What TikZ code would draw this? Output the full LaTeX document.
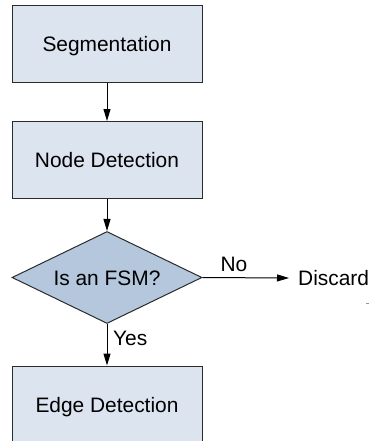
\documentclass[tikz,border=0pt]{standalone}
\usepackage{fontspec}
\setmainfont{Liberation Sans}
\usetikzlibrary{shapes.geometric,arrows.meta}
\definecolor{boxfill}{HTML}{DCE4EF}
\definecolor{diafill}{HTML}{B4C7DD}
\definecolor{edge}{HTML}{2B2B2B}
\definecolor{speck}{HTML}{7A9CC6}
\tikzset{
  stepbox/.style={draw=edge, line width=1pt, fill=boxfill, rectangle,
    minimum width=190pt, minimum height=77pt, inner sep=0pt,
    text height=15pt, text depth=0pt},
  decision/.style={draw=edge, line width=1pt, fill=diafill, diamond,
    minimum width=190pt, minimum height=92pt, inner sep=0pt, aspect=2.065,
    text height=15pt, text depth=0pt},
  flow/.style={draw=black, line width=1pt, -{Triangle[length=12pt,width=7pt]}},
  lbl/.style={inner sep=0pt, text height=15pt, text depth=0pt}
}
\begin{document}
\begin{tikzpicture}[x=1pt,y=1pt,font=\fontsize{20.9}{25}\selectfont]
\useasboundingbox (0,0) rectangle (371,-441);
\clip (0,0) rectangle (371,-441);
\node[stepbox] (seg) at (107,-44.5) {Segmentation};
\node[stepbox] (node) at (107,-160) {Node Detection};
\node[decision] (fsm) at (107,-277.5) {Is an FSM?};
\node[stepbox] (edge) at (107,-404.5) {Edge Detection};
\node[anchor=west, inner xsep=9pt, inner ysep=0pt, text height=15pt, text depth=0pt] (disc) at (289,-278) {Discard};
\draw[flow] (seg) -- (node);
\draw[flow] (node) -- (fsm);
\draw[flow] (fsm.east) -- (disc.west);
\draw[flow] (fsm.south) -- (edge.north);
\node[lbl] (no) at (234,-264) {No};
\node[lbl, anchor=west] (yes) at (113,-338) {Yes};
\draw[speck, line width=1pt] (366,-303.5) -- (368.5,-303.5);
\end{tikzpicture}
\end{document}
